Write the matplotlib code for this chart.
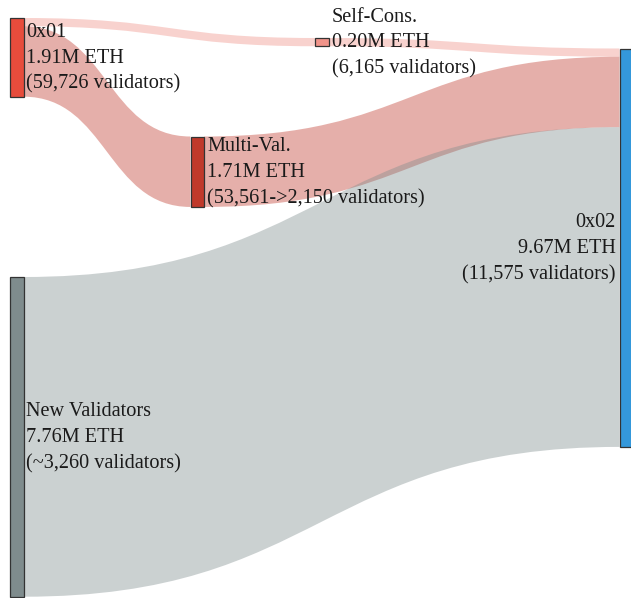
import matplotlib.pyplot as plt
from matplotlib.path import Path
from matplotlib.patches import PathPatch, Rectangle

# nodes
node_names = ["0x01", "Self-Cons.", "Multi-Val.", "New Validators", "0x02"]
node_eth = [1.91, 0.20, 1.71, 7.76, 9.67]
node_validators = ["59,726", "6,165", "53,561->2,150", "~3,260", "11,575"]

# links (source index, target index, value in M ETH)
link_src = [0, 0, 1, 2, 3]
link_dst = [1, 2, 4, 4, 4]
link_val = [0.20, 1.71, 0.20, 1.71, 7.76]

# layout (pixels)
W, H = 631, 598
scale = 41.2            # px per M ETH
node_w = 13.5
node_x = [10, 315, 190.5, 10, 619.5]
node_top = [18, 38, 136.5, 277, 48.5]
node_colors = ["#e74c3c", "#f1948a", "#c0392b", "#7f8c8d", "#3498db"]
link_colors = [(231/255, 76/255, 60/255, 0.25), (192/255, 57/255, 43/255, 0.4),
               (231/255, 76/255, 60/255, 0.25), (192/255, 57/255, 43/255, 0.4),
               (127/255, 140/255, 141/255, 0.4)]
label_side = ["right", "right", "right", "right", "left"]

plt.rcParams['font.family'] = ['Liberation Serif', 'DejaVu Serif']

fig = plt.figure(figsize=(W / 100, H / 100), dpi=100)
ax = fig.add_axes([0, 0, 1, 1])
ax.set_xlim(0, W)
ax.set_ylim(H, 0)
ax.axis('off')

# stack links on each node
out_off = [0.0] * len(node_names)
in_off = [0.0] * len(node_names)
order = sorted(range(len(link_val)), key=lambda i: (node_top[link_src[i]], node_top[link_dst[i]]))
for i in order:
    s, d, v = link_src[i], link_dst[i], link_val[i]
    h = v * scale
    x0 = node_x[s] + node_w
    x1 = node_x[d]
    y0 = node_top[s] + out_off[s]
    y1 = node_top[d] + in_off[d]
    out_off[s] += h
    in_off[d] += h
    xm = (x0 + x1) / 2
    verts = [(x0, y0), (xm, y0), (xm, y1), (x1, y1),
             (x1, y1 + h), (xm, y1 + h), (xm, y0 + h), (x0, y0 + h),
             (x0, y0)]
    codes = [Path.MOVETO, Path.CURVE4, Path.CURVE4, Path.CURVE4,
             Path.LINETO, Path.CURVE4, Path.CURVE4, Path.CURVE4,
             Path.CLOSEPOLY]
    ax.add_patch(PathPatch(Path(verts, codes), facecolor=link_colors[i],
                           edgecolor='none', zorder=1))

# nodes and labels
for k, name in enumerate(node_names):
    h = node_eth[k] * scale
    ax.add_patch(Rectangle((node_x[k], node_top[k]), node_w, h,
                           facecolor=node_colors[k], edgecolor='#333333',
                           linewidth=0.9, zorder=2))
    label = f"{name}\n{node_eth[k]:.2f}M ETH\n({node_validators[k]} validators)"
    yc = node_top[k] + h / 2
    if label_side[k] == "right":
        ax.text(node_x[k] + node_w + 3, yc + 1, label, ha='left', va='center',
                fontsize=14.6, color='#1a1a1a', linespacing=1.48, zorder=3)
    else:
        ax.text(node_x[k] - 4, yc + 1, label, ha='right', va='center',
                fontsize=14.6, color='#1a1a1a', linespacing=1.48,
                multialignment='right', zorder=3)

fig.savefig("out.png", dpi=100)
